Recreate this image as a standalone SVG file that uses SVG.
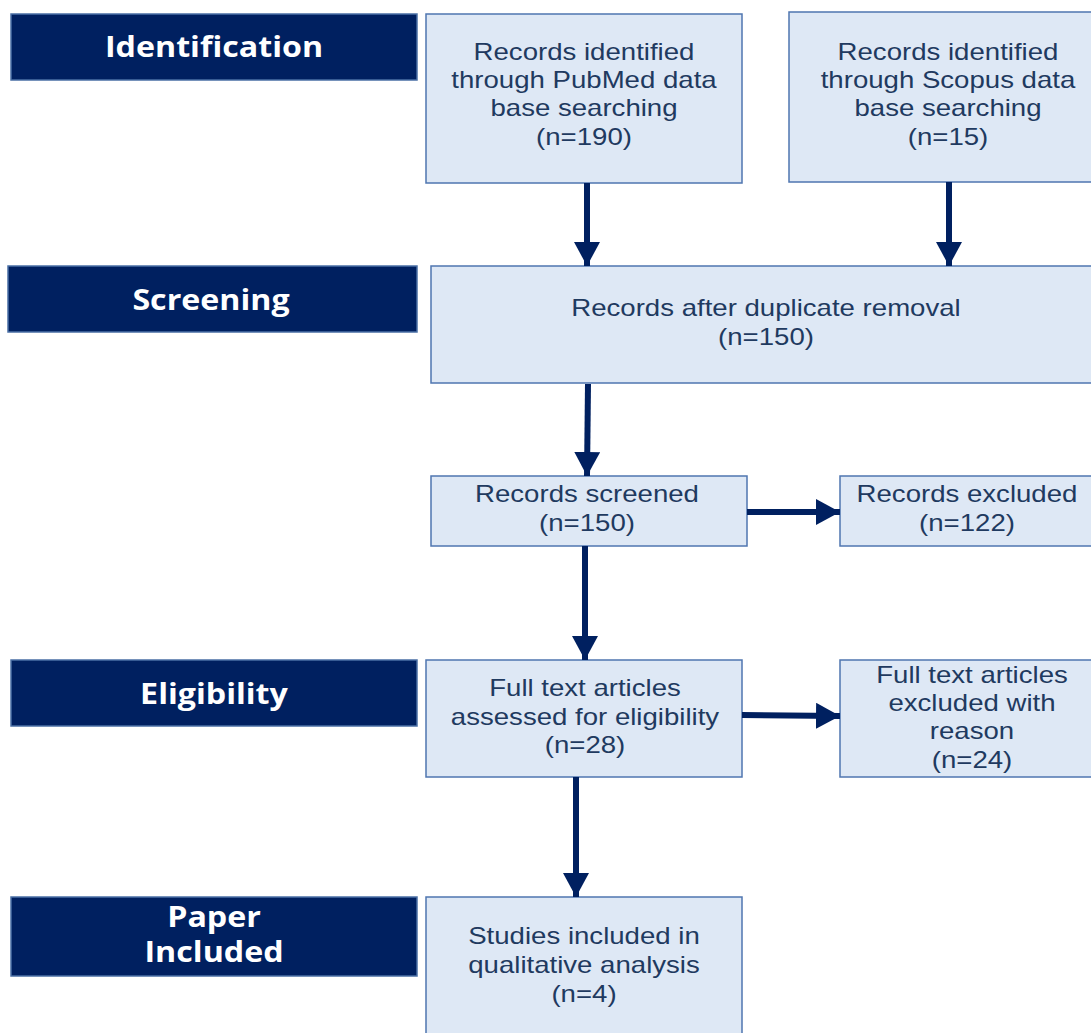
<svg xmlns="http://www.w3.org/2000/svg" width="1091" height="1033" viewBox="0 0 1091 1033">
<style>
.stage{fill:#002060;stroke:#4A6FA5;stroke-width:1.5}
.stl{fill:#fff;font-family:"Open Sans","Liberation Sans",sans-serif;font-weight:bold;font-size:28px;text-anchor:middle;dominant-baseline:central}
.box{fill:#DEE8F5;stroke:#4F76B0;stroke-width:1.5}
.bt{fill:#1F3A60;font-family:"Liberation Sans",Arial,sans-serif;font-size:23px;text-anchor:middle;dominant-baseline:central}
.conn{stroke:#002060;stroke-width:6;fill:none}
</style>
<defs>
<marker id="ah" markerUnits="userSpaceOnUse" markerWidth="26" markerHeight="26" refX="24" refY="13" orient="auto">
<path d="M0,0 L24,13 L0,26 Z" fill="#002060"/>
</marker>
</defs>
<rect width="1091" height="1033" fill="#fff"/>
<g id="stage-identification"><rect class="stage" x="11" y="14" width="406" height="66"/><text class="stl" transform="translate(214,0) scale(1.15,1)" x="0" y="46">Identification</text></g>
<g id="stage-screening"><rect class="stage" x="8" y="266" width="409" height="66"/><text class="stl" transform="translate(211,0) scale(1.15,1)" x="0" y="299">Screening</text></g>
<g id="stage-eligibility"><rect class="stage" x="11" y="660" width="406" height="66"/><text class="stl" transform="translate(214,0) scale(1.15,1)" x="0" y="693">Eligibility</text></g>
<g id="stage-included"><rect class="stage" x="11" y="897" width="406" height="79"/><text class="stl" transform="translate(214,0) scale(1.15,1)" x="0" y="916">Paper</text><text class="stl" transform="translate(214,0) scale(1.15,1)" x="0" y="951">Included</text></g>

<g id="pubmed"><rect class="box" x="426" y="14" width="316" height="169"/>
<g transform="translate(584,0) scale(1.2,1)"><text class="bt" x="0" y="52">Records identified</text><text class="bt" x="0" y="80">through PubMed data</text><text class="bt" x="0" y="108">base searching</text><text class="bt" x="0" y="137">(n=190)</text></g></g>
<g id="scopus"><rect class="box" x="789" y="12" width="304" height="170"/>
<g transform="translate(948,0) scale(1.2,1)"><text class="bt" x="0" y="52">Records identified</text><text class="bt" x="0" y="80">through Scopus data</text><text class="bt" x="0" y="108">base searching</text><text class="bt" x="0" y="137">(n=15)</text></g></g>
<g id="dedup"><rect class="box" x="431" y="266" width="662" height="117"/>
<g transform="translate(766,0) scale(1.2,1)"><text class="bt" x="0" y="308">Records after duplicate removal</text><text class="bt" x="0" y="337">(n=150)</text></g></g>
<g id="screened"><rect class="box" x="431" y="476" width="316" height="70"/>
<g transform="translate(587,0) scale(1.2,1)"><text class="bt" x="0" y="494">Records screened</text><text class="bt" x="0" y="523">(n=150)</text></g></g>
<g id="excluded"><rect class="box" x="840" y="476" width="253" height="70"/>
<g transform="translate(967,0) scale(1.2,1)"><text class="bt" x="0" y="494">Records excluded</text><text class="bt" x="0" y="523">(n=122)</text></g></g>
<g id="fulltext"><rect class="box" x="426" y="660" width="316" height="117"/>
<g transform="translate(585,0) scale(1.2,1)"><text class="bt" x="0" y="688">Full text articles</text><text class="bt" x="0" y="717">assessed  for eligibility</text><text class="bt" x="0" y="745">(n=28)</text></g></g>
<g id="ft-excluded"><rect class="box" x="840" y="660" width="253" height="117"/>
<g transform="translate(972,0) scale(1.2,1)"><text class="bt" x="0" y="675">Full text articles</text><text class="bt" x="0" y="703">excluded with</text><text class="bt" x="0" y="731">reason</text><text class="bt" x="0" y="760">(n=24)</text></g></g>
<g id="studies"><rect class="box" x="426" y="897" width="316" height="140"/>
<g transform="translate(584,0) scale(1.2,1)"><text class="bt" x="0" y="936">Studies included in</text><text class="bt" x="0" y="965">qualitative analysis</text><text class="bt" x="0" y="994">(n=4)</text></g></g>

<g id="connectors">
<line class="conn" x1="587" y1="183" x2="587" y2="266" marker-end="url(#ah)"/>
<line class="conn" x1="949" y1="182" x2="949" y2="266" marker-end="url(#ah)"/>
<line class="conn" x1="588" y1="384" x2="587" y2="476" marker-end="url(#ah)"/>
<line class="conn" x1="747" y1="512" x2="840" y2="512" marker-end="url(#ah)"/>
<line class="conn" x1="585" y1="546" x2="585" y2="660" marker-end="url(#ah)"/>
<line class="conn" x1="742" y1="715" x2="840" y2="716" marker-end="url(#ah)"/>
<line class="conn" x1="576" y1="777" x2="576" y2="897" marker-end="url(#ah)"/>
</g>
</svg>
